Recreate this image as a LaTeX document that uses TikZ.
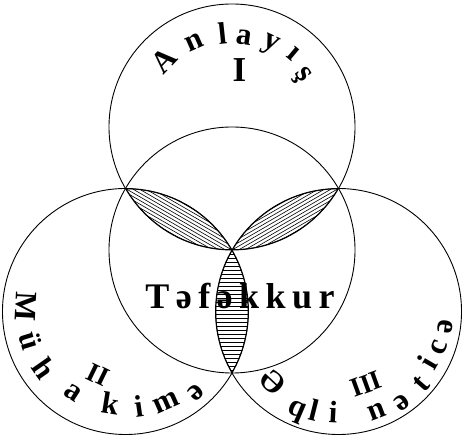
\documentclass[tikz,border=0pt]{standalone}
\usepackage{fontspec}
\setmainfont{Liberation Serif}
\usetikzlibrary{calc}
\begin{document}
\begin{tikzpicture}[x=1pt,y=1pt,
  ring/.style={line width=0.9pt},
  lensedge/.style={line width=1.5pt},
  hatch/.style={line width=0.6pt},
  arcletter/.style={font=\fontsize{31}{31}\selectfont\bfseries, inner sep=0pt, anchor=base},
  numeral/.style={font=\fontsize{27}{27}\selectfont\bfseries, inner sep=0pt}]
\useasboundingbox (0,0) rectangle (462,438);
\def\rad{123pt}
\coordinate (C) at (232,188);
\coordinate (T) at ($(C)+(90:\rad)$);
\coordinate (L) at ($(C)+(210:\rad)$);
\coordinate (R) at ($(C)+(330:\rad)$);
% circles
\draw[ring] (C) circle[radius=\rad];
\draw[ring] (T) circle[radius=\rad];
\draw[ring] (L) circle[radius=\rad];
\draw[ring] (R) circle[radius=\rad];
% left lens (T & L)
\begin{scope}
  \clip (T) circle[radius=\rad];
  \clip (L) circle[radius=\rad];
  \begin{scope}[shift={(C)},rotate=150]
    \foreach \d in {-16,-12.8,...,16.1} \draw[hatch] (-5,\d) -- (130,\d);
  \end{scope}
  \draw[lensedge] (T) circle[radius=\rad];
  \draw[lensedge] (L) circle[radius=\rad];
\end{scope}
% right lens (T & R)
\begin{scope}
  \clip (T) circle[radius=\rad];
  \clip (R) circle[radius=\rad];
  \begin{scope}[shift={(C)},rotate=30]
    \foreach \d in {-16,-12.8,...,16.1} \draw[hatch] (-5,\d) -- (130,\d);
  \end{scope}
  \draw[lensedge] (T) circle[radius=\rad];
  \draw[lensedge] (R) circle[radius=\rad];
\end{scope}
% bottom lens (L & R)
\begin{scope}
  \clip (L) circle[radius=\rad];
  \clip (R) circle[radius=\rad];
  \begin{scope}[shift={(C)}]
    \foreach \d in {0,-4,...,-124} \draw[hatch] (-20,\d) -- (20,\d);
  \end{scope}
  \draw[lensedge] (L) circle[radius=\rad];
  \draw[lensedge] (R) circle[radius=\rad];
\end{scope}
% top text
\foreach \ch/\a/\r in {A/136/85, n/114/85, l/96/83, a/82/83, y/65/86, ı/50/88, ş/36/82}
  \node[arcletter, rotate=\a-90] (top\a) at ($(T)+(\a:\r pt)$) {\ch};
\node[numeral, font=\fontsize{35}{35}\selectfont\bfseries] (numI) at (239.5,368) {I};
% left text
\foreach \ch/\a/\r in {M/177/110, ü/197/109, h/215/110, a/237/104, k/261/104, i/278/106, m/294/107, ə/311/114}
  \node[arcletter, rotate=\a+90] (left\a) at ($(L)+(\a:\r pt)$) {\ch};
\node[numeral, rotate=-26] (numII) at (98,63) {II};
% right text
\foreach \ch/\a/\r in {Ə/227/107, q/247/113, l/256/112, i/267/111, n/291/115, ə/305/118, t/319/119, i/330/113, c/340/114, ə/352/115}
  \node[arcletter, rotate=\a+90] (right\a) at ($(R)+(\a:\r pt)$) {\ch};
\node[numeral, rotate=20] (numIII) at (366,54) {III};
% centre
\node[font=\fontsize{36}{36}\selectfont\bfseries\addfontfeature{LetterSpace=18}] (think) at (240,142) {Təfəkkur};
\end{tikzpicture}
\end{document}
